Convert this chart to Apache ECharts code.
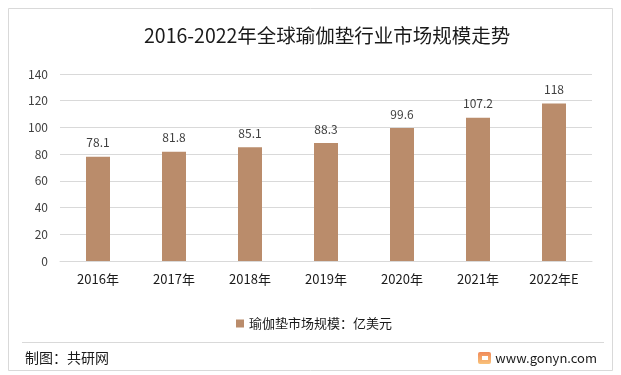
<!DOCTYPE html>
<html><head><meta charset="utf-8">
<script src="https://cdn.jsdelivr.net/npm/echarts@6/dist/echarts.min.js"></script>
<style>html,body{margin:0;padding:0;background:#fff}#c{width:621px;height:375px}</style>
</head><body><div id="c"></div>
<script>
const categories = ['2016年','2017年','2018年','2019年','2020年','2021年','2022年E'];
const values = [78.1, 81.8, 85.1, 88.3, 99.6, 107.2, 118];
const seriesName = '瑜伽垫市场规模：亿美元';
const titleText = '2016-2022年全球瑜伽垫行业市场规模走势';
const sourceText = '制图：共研网';
const siteText = 'www.gonyn.com';

const font = '"Microsoft YaHei","Noto Sans CJK SC",sans-serif';
const chart = echarts.init(document.getElementById('c'), null, {renderer:'canvas'});
chart.setOption({
  backgroundColor:'#fff',
  animation:false,
  title:{text:titleText,left:139,top:21,textStyle:{fontFamily:font,fontSize:19.5,fontWeight:'normal',color:'#1a1a1a'}},
  graphic:[
    {type:'rect',shape:{x:8.5,y:8.5,width:604,height:362},style:{fill:'none',stroke:'#d9d9d9',lineWidth:1}},
    {type:'line',shape:{x1:22,y1:342.5,x2:604,y2:342.5},style:{stroke:'#d9d9d9',lineWidth:1}},
    {type:'text',left:25,top:351,style:{text:sourceText,font:'14px '+font,fill:'#1a1a1a'}},
    {type:'rect',shape:{x:478,y:352,width:13,height:12,r:2},
      style:{fill:new echarts.graphic.LinearGradient(0,0,0,1,[{offset:0,color:'#f08a5a'},{offset:1,color:'#f9c27a'}])}},
    {type:'rect',shape:{x:482,y:356,width:6,height:4},style:{fill:'#fff'}},
    {type:'text',right:24,top:352,style:{text:siteText,font:'13px '+font,fill:'#1a1a1a'}}
  ],
  legend:{data:[seriesName],top:312,left:231,itemWidth:8,itemHeight:8,icon:'rect',itemGap:3,
    textStyle:{fontFamily:font,fontSize:13,color:'#1a1a1a'}},
  grid:{left:60,right:29,top:74,height:187,containLabel:false},
  xAxis:{type:'category',data:categories,
    axisLine:{show:true,lineStyle:{color:'#d9d9d9'}},axisTick:{show:false},
    axisLabel:{fontFamily:font,fontSize:13,color:'#1a1a1a',margin:12}},
  yAxis:{type:'value',min:0,max:140,interval:20,
    axisLine:{show:false},axisTick:{show:false},
    splitLine:{lineStyle:{color:'#d9d9d9'}},
    axisLabel:{fontFamily:font,fontSize:12,color:'#404040',margin:12}},
  series:[{name:seriesName,type:'bar',data:values,barWidth:24,
    itemStyle:{color:'#BA8C6B'},
    label:{show:true,position:'top',distance:8,fontFamily:font,fontSize:12,color:'#404040'}}]
});
</script></body></html>
